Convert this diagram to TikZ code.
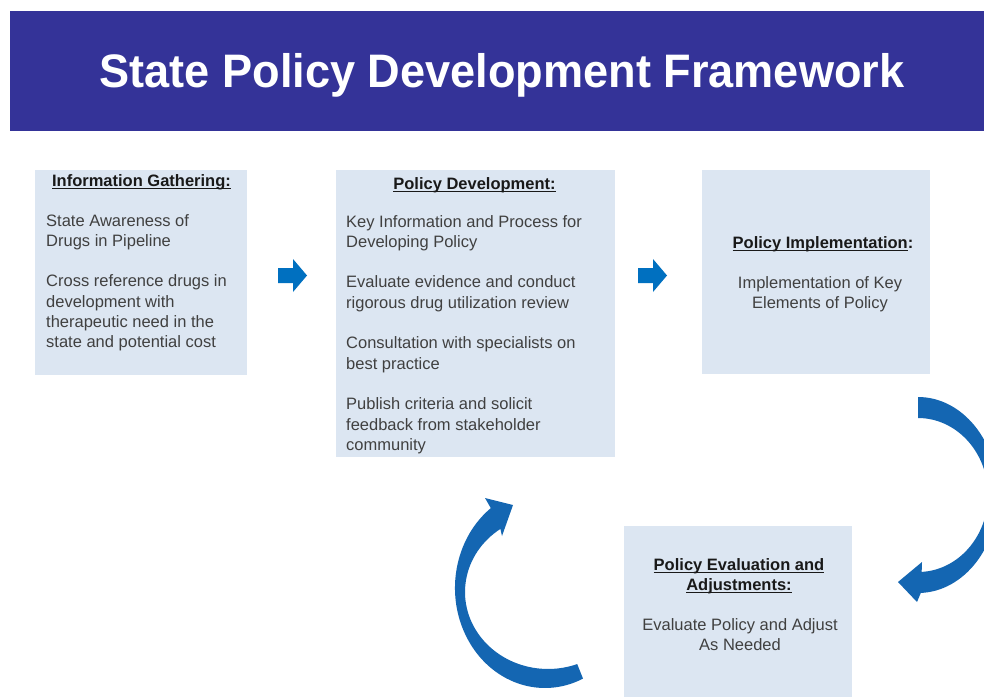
\documentclass[tikz,border=0pt]{standalone}
\usepackage{fontspec}
\setmainfont{Liberation Sans}
\usepackage{graphicx}
\definecolor{bannerblue}{RGB}{52,51,152}
\definecolor{boxfill}{RGB}{220,230,242}
\definecolor{arrowblue}{RGB}{0,112,192}
\definecolor{curveblue}{RGB}{20,102,178}
\definecolor{bodygray}{RGB}{64,64,64}
\definecolor{headblack}{RGB}{25,25,25}
\newcommand\hdul[1]{\leavevmode\setbox0\hbox{#1}\rlap{\rule[-2.6pt]{\wd0}{1.1pt}}\box0}
\tikzset{
  panel/.style={fill=boxfill, draw=none, inner sep=0pt, anchor=north west},
  bodytext/.style={inner sep=0pt, text=bodygray, font=\fontsize{16.5}{20.3}\selectfont},
  headtext/.style={inner sep=0pt, text=headblack, font=\fontsize{16.5}{20.3}\selectfont\bfseries},
  titletext/.style={inner sep=0pt, text=white, font=\fontsize{47}{56}\selectfont\bfseries},
  blockarrow/.style={fill=arrowblue, draw=none},
  curvearrow/.style={fill=curveblue, draw=none}
}
\begin{document}
\begin{tikzpicture}[x=1pt,y=1pt]
\useasboundingbox (0,0) rectangle (984,-696);
\clip (0,0) rectangle (984,-696);
\fill[white] (0,0) rectangle (984,-696);

% banner
\node[fill=bannerblue, inner sep=0pt, anchor=north west, minimum width=980pt, minimum height=120pt] (banner) at (10,-11) {};
\node[titletext, anchor=base] (title) at (502,-87) {\scalebox{0.96}[1]{State Policy Development Framework}};

% panels
\node[panel, minimum width=212pt, minimum height=205pt] (gather) at (35,-170) {};
\node[panel, minimum width=279pt, minimum height=287pt] (develop) at (336,-170) {};
\node[panel, minimum width=228pt, minimum height=204pt] (implement) at (702,-170) {};
\node[panel, minimum width=228pt, minimum height=175pt] (evaluate) at (624,-526) {};

% panel 1 text
\node[headtext, anchor=base] (gatherhead) at (141.5,-186) {\hdul{Information Gathering:}};
\node[bodytext, anchor=base west] (gatherbody) at (46,-226) {\parbox[t]{200pt}{\raggedright
State Awareness of\\
Drugs in Pipeline\\[20.3pt]
Cross reference drugs in\\
development with\\
therapeutic need in the\\
state and potential cost}};

% panel 2 text
\node[headtext, anchor=base] (develophead) at (474.5,-189) {\hdul{Policy Development:}};
\node[bodytext, anchor=base west] (developbody) at (346,-227) {\parbox[t]{265pt}{\raggedright
Key Information and Process for\\
Developing Policy\\[20.3pt]
Evaluate evidence and conduct\\
rigorous drug utilization review\\[20.3pt]
Consultation with specialists on\\
best practice\\[20.3pt]
Publish criteria and solicit\\
feedback from stakeholder\\
community}};

% panel 3 text
\node[headtext, anchor=base] (implementhead) at (823,-248) {\hdul{Policy Implementation}:};
\node[bodytext, anchor=base] (implementbody) at (820,-288) {\parbox[t]{220pt}{\centering
Implementation of Key\\
Elements of Policy}};

% panel 4 text
\node[headtext, anchor=base] (evaluatehead) at (739,-570) {\parbox[t]{220pt}{\centering
\hdul{Policy Evaluation and}\\
\hdul{Adjustments:}}};
\node[bodytext, anchor=base] (evaluatebody) at (740,-630) {\parbox[t]{220pt}{\centering
Evaluate Policy and Adjust\\
As Needed}};

% small block arrows
\coordinate (arrowA) at (278,-275.5);
\coordinate (arrowB) at (638,-275.5);
\foreach \c in {arrowA,arrowB}{
  \fill[blockarrow] (\c) ++(0,7.5) -- ++(15,0) -- ++(0,9) -- ++(14,-16.5) -- ++(-14,-16.5) -- ++(0,9) -- ++(-15,0) -- cycle;
}

% right curved arrow (implementation -> evaluation)
\fill[curvearrow] (918,-397)
  arc[start angle=90, end angle=-88, x radius=80, y radius=98]
  -- (917,-602) -- (898,-582) -- (922,-562) -- (921.66,-571.9)
  arc[start angle=-87, end angle=90, x radius=70, y radius=77]
  -- cycle;

% left curved arrow (evaluation -> development)
\fill[curvearrow] (583.0,-678.6)
  arc[start angle=-65, end angle=-233, x radius=90, y radius=100]
  -- (485,-498) -- (513,-505) -- (502,-536) -- (500.4,-528.9)
  arc[start angle=-235, end angle=-69.4, x radius=83, y radius=77]
  -- cycle;
\end{tikzpicture}
\end{document}
